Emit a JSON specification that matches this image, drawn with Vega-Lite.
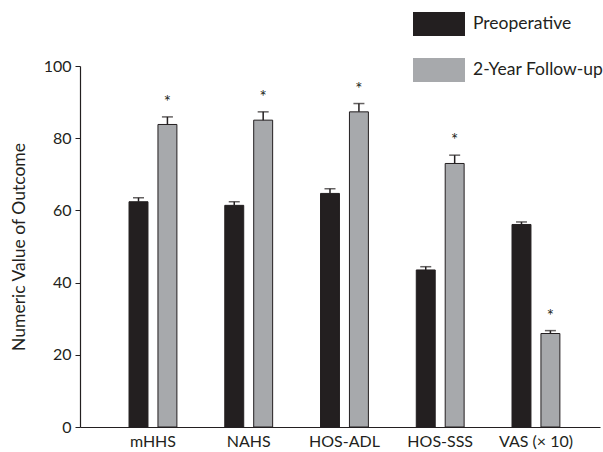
{
  "$schema": "https://vega.github.io/schema/vega-lite/v6.json",
  "width": 520,
  "height": 361,
  "autosize": "none",
  "padding": {"left": 80, "top": 66, "right": 3, "bottom": 25},
  "background": "white",
  "config": {
    "view": {"stroke": null},
    "font": "Lato",
    "axis": {"labelFont": "Lato", "titleFont": "Lato", "labelColor": "#231f20", "titleColor": "#231f20"},
    "legend": {"labelFont": "Lato"}
  },
  "data": {
    "values": [
      {"measure": "mHHS", "time": "Preoperative", "value": 62.4, "err": 63.5, "sig": ""},
      {"measure": "mHHS", "time": "2-Year Follow-up", "value": 83.8, "err": 85.9, "sig": "*"},
      {"measure": "NAHS", "time": "Preoperative", "value": 61.4, "err": 62.4, "sig": ""},
      {"measure": "NAHS", "time": "2-Year Follow-up", "value": 85.0, "err": 87.3, "sig": "*"},
      {"measure": "HOS-ADL", "time": "Preoperative", "value": 64.7, "err": 66.0, "sig": ""},
      {"measure": "HOS-ADL", "time": "2-Year Follow-up", "value": 87.3, "err": 89.6, "sig": "*"},
      {"measure": "HOS-SSS", "time": "Preoperative", "value": 43.5, "err": 44.4, "sig": ""},
      {"measure": "HOS-SSS", "time": "2-Year Follow-up", "value": 73.0, "err": 75.3, "sig": "*"},
      {"measure": "VAS (× 10)", "time": "Preoperative", "value": 56.1, "err": 56.8, "sig": ""},
      {"measure": "VAS (× 10)", "time": "2-Year Follow-up", "value": 25.9, "err": 26.7, "sig": "*"}
    ]
  },
  "encoding": {
    "x": {
      "field": "measure", "type": "nominal", "sort": null,
      "scale": {"paddingInner": 0.5, "paddingOuter": 0.4655, "align": 0.55},
      "axis": {"title": null, "ticks": false, "labelAngle": 0, "labelFontSize": 16, "labelPadding": 6, "domainColor": "#231f20", "domainWidth": 1.2}
    },
    "xOffset": {
      "field": "time", "type": "nominal",
      "scale": {"domain": ["Preoperative", "2-Year Follow-up"], "paddingInner": 0.345}
    }
  },
  "layer": [
    {
      "mark": {"type": "bar", "stroke": "#231f20", "strokeWidth": 1},
      "encoding": {
        "y": {
          "field": "value", "type": "quantitative",
          "scale": {"domain": [0, 100], "nice": false},
          "axis": {
            "title": "Numeric Value of Outcome", "values": [0, 20, 40, 60, 80, 100],
            "grid": false, "tickSize": 5, "tickColor": "#231f20", "domainColor": "#231f20", "domainWidth": 1.2,
            "labelFontSize": 16, "labelPadding": 4, "titleFontSize": 17.5, "titleFontWeight": "normal", "titlePadding": 15
          }
        },
        "color": {
          "field": "time", "type": "nominal",
          "scale": {"domain": ["Preoperative", "2-Year Follow-up"], "range": ["#231f20", "#a7a9ac"]},
          "legend": {
            "title": null, "orient": "none", "legendX": 333, "legendY": -68,
            "symbolType": "M-1,-0.46H1V0.46H-1Z", "symbolSize": 2704, "symbolStrokeWidth": 0,
            "labelFontSize": 17.5, "labelColor": "#231f20", "labelOffset": 8, "rowPadding": 8
          }
        }
      }
    },
    {
      "mark": {"type": "rule", "color": "#231f20", "strokeWidth": 1.5},
      "encoding": {
        "y": {"field": "value", "type": "quantitative"},
        "y2": {"field": "err"}
      }
    },
    {
      "mark": {"type": "tick", "color": "#231f20", "size": 11, "thickness": 1.5, "orient": "horizontal"},
      "encoding": {
        "y": {"field": "err", "type": "quantitative"}
      }
    },
    {
      "mark": {"type": "text", "fontSize": 17, "dy": -14, "color": "#231f20"},
      "encoding": {
        "y": {"field": "err", "type": "quantitative"},
        "text": {"field": "sig"}
      }
    }
  ]
}
